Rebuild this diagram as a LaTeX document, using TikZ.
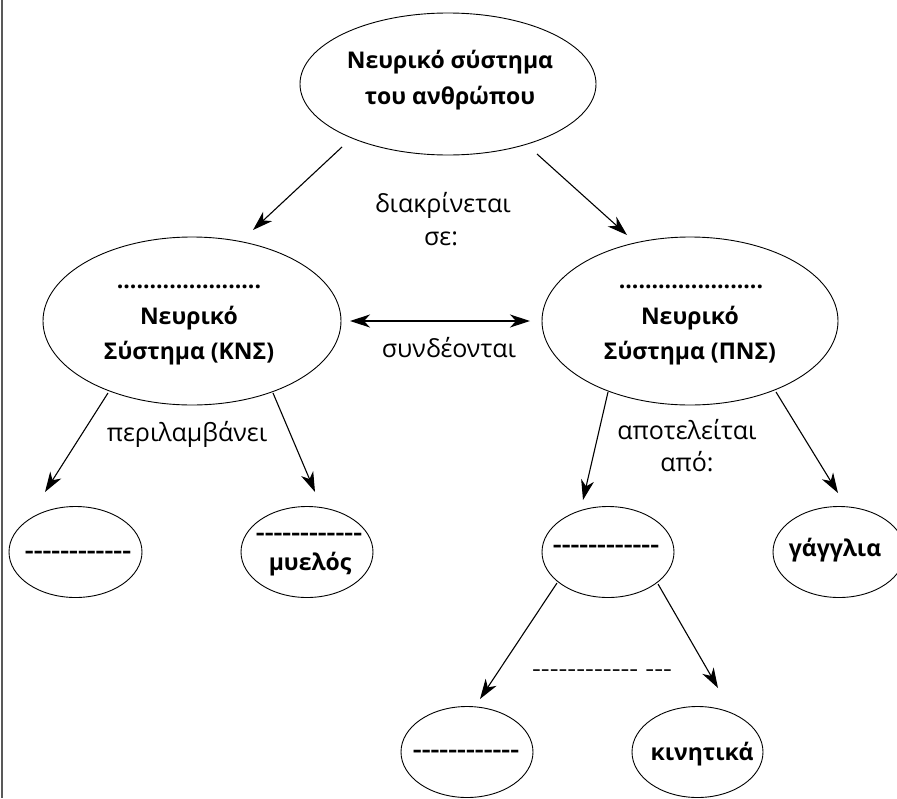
\documentclass[tikz,border=0pt]{standalone}
\usepackage{fontspec}
\setmainfont{Open Sans}[Ligatures=TeXOff]
\usetikzlibrary{shapes.geometric,arrows.meta}
\begin{document}
\begin{tikzpicture}[x=1pt,y=-1pt,
  oval/.style={draw, ellipse, line width=0.9pt, inner sep=0pt},
  arr/.style={-{Stealth[length=20pt,width=13pt,inset=6pt]}, line width=1.1pt},
  dblarr/.style={{Stealth[length=20pt,width=13pt,inset=6pt]}-{Stealth[length=20pt,width=13pt,inset=6pt]}, line width=1.1pt},
  bt/.style={font=\fontsize{23}{27}\selectfont\bfseries, anchor=base, inner sep=0pt},
  rt/.style={font=\fontsize{25}{29}\selectfont, anchor=base, inner sep=0pt},
  dsh/.style={font=\fontsize{22}{26}\selectfont\bfseries, anchor=center, inner sep=0pt},
  rdsh/.style={font=\fontsize{22}{26}\selectfont, anchor=center, inner sep=0pt},
]
\useasboundingbox (0,0) rectangle (897,798);
\clip (0,0) rectangle (897,798);
\draw[line width=2pt, black!65] (2,0) -- (2,798);

% ellipses
\node[oval, minimum width=296pt, minimum height=142pt] (top) at (448,84) {};
\node[oval, minimum width=298pt, minimum height=168pt] (kns) at (192,321) {};
\node[oval, minimum width=296pt, minimum height=168pt] (pns) at (690,321) {};
\node[oval, minimum width=133pt, minimum height=91pt] (e1) at (75.5,552) {};
\node[oval, minimum width=132pt, minimum height=91pt] (e2) at (307,552) {};
\node[oval, minimum width=132pt, minimum height=91pt] (e3) at (608,552) {};
\node[oval, minimum width=132pt, minimum height=91pt] (e4) at (839,552) {};
\node[oval, minimum width=132pt, minimum height=91pt] (e5) at (467,752) {};
\node[oval, minimum width=131pt, minimum height=91pt] (e6) at (697.5,752) {};

% texts in ellipses
\node[bt] (top1) at (450,68) {Νευρικό σύστημα};
\node[bt] (top2) at (450,104) {του ανθρώπου};
\node[bt] (kns0) at (189,288) {......................};
\node[bt] (kns1) at (189,324) {Νευρικό};
\node[bt] (kns2) at (189,359) {Σύστημα (ΚΝΣ)};
\node[bt] (pns0) at (691,288) {......................};
\node[bt] (pns1) at (690,324) {Νευρικό};
\node[bt] (pns2) at (690,359) {Σύστημα (ΠΝΣ)};
\node[dsh] (e1t) at (78,555) {\scalebox{1.25}[1]{------------}};
\node[dsh] (e2t) at (309,537) {\scalebox{1.25}[1]{------------}};
\node[bt] (e2b) at (310,570) {μυελός};
\node[dsh] (e3t) at (606,549) {\scalebox{1.25}[1]{------------}};
\node[bt] (e4t) at (835,556) {γάγγλια};
\node[dsh] (e5t) at (466,754) {\scalebox{1.25}[1]{------------}};
\node[bt] (e6t) at (702,760) {κινητικά};

% connector labels
\node[rt] (l1a) at (443,212) {διακρίνεται};
\node[rt] (l1b) at (441,245) {σε:};
\node[rt] (l2) at (449,357) {συνδέονται};
\node[rt] (l3) at (187,441) {περιλαμβάνει};
\node[rt] (l4a) at (687,439) {αποτελείται};
\node[rt] (l4b) at (687,471) {από:};
\node[rdsh] (l5) at (602,673) {\scalebox{1.25}[1]{------------ ---}};

% connectors
\draw[arr] ([shift={(-106,63)}]top.center) -- ([shift={(61,-91)}]kns.center);
\draw[arr] ([shift={(89,70)}]top.center) -- ([shift={(-63,-86)}]pns.center);
\draw[dblarr] ([shift={(158,0)}]kns.center) -- ([shift={(-160,0)}]pns.center);
\draw[arr] ([shift={(-84,72)}]kns.center) -- ([shift={(-30.5,-60)}]e1.center);
\draw[arr] ([shift={(81,72)}]kns.center) -- ([shift={(8,-60)}]e2.center);
\draw[arr] ([shift={(-82,71)}]pns.center) -- ([shift={(-25,-52)}]e3.center);
\draw[arr] ([shift={(86,71)}]pns.center) -- ([shift={(-1,-59)}]e4.center);
\draw[arr] ([shift={(-51,31)}]e3.center) -- ([shift={(13,-53)}]e5.center);
\draw[arr] ([shift={(50,32)}]e3.center) -- ([shift={(20.5,-64)}]e6.center);
\end{tikzpicture}
\end{document}
